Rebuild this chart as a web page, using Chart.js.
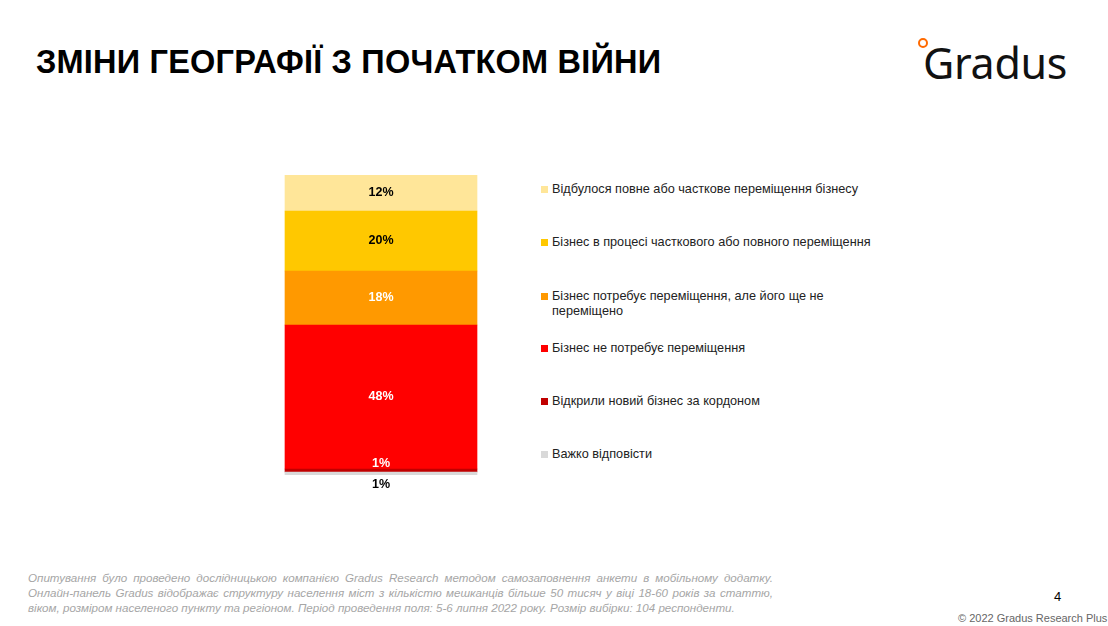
<!DOCTYPE html>
<html>
<head>
<meta charset="utf-8">
<script src="https://cdn.jsdelivr.net/npm/chart.js@4"></script>
<style>
  body { margin: 0; width: 1108px; height: 626px; background: #fff; font-family: "Liberation Sans", Arial, sans-serif; position: relative; overflow: hidden; }
  #title { position: absolute; left: 36px; top: 44px; font-size: 32.5px; font-weight: bold; color: #000; letter-spacing: 0.2px; }
  #logo { position: absolute; left: 923px; top: 33px; font-family: "Noto Sans", sans-serif; font-size: 43px; color: #111; letter-spacing: -0.3px; }
  #logo .dot { position: absolute; left: -5px; top: 5px; width: 6px; height: 6px; border: 2px solid #ff6a00; border-radius: 50%; }
  #chartBox { position: absolute; left: 265px; top: 165px; width: 232px; height: 330px; }
  .leg { position: absolute; left: 541px; font-size: 12.7px; color: #222; line-height: 15px; }
  .leg i { position: absolute; left: 0; top: 4px; width: 7px; height: 7px; }
  .leg span { display: block; margin-left: 11px; }
  #note { position: absolute; left: 28px; top: 570px; width: 745px; font-size: 11.6px; font-style: italic; color: #a6a6a6; line-height: 15px; }
  #note div { text-align: justify; text-align-last: justify; white-space: nowrap; }
  #note div.last { text-align-last: left; }
  #page { position: absolute; left: 1054px; top: 589px; font-size: 13px; color: #000; }
  #copy { position: absolute; left: 958px; top: 612px; font-size: 11px; color: #666; }
</style>
</head>
<body>
<div id="title">ЗМІНИ ГЕОГРАФІЇ З ПОЧАТКОМ ВІЙНИ</div>
<div id="logo"><div class="dot"></div>Gradus</div>
<div id="chartBox"><canvas id="geoChart"></canvas></div>
<div id="legend"></div>
<div id="note">
  <div>Опитування було проведено дослідницькою компанією Gradus Research методом самозаповнення анкети в мобільному додатку.</div>
  <div>Онлайн-панель Gradus відображає структуру населення міст з кількістю мешканців більше 50 тисяч у віці 18-60 років за статтю,</div>
  <div class="last">віком, розміром населеного пункту та регіоном. Період проведення поля: 5-6 липня 2022 року. Розмір вибірки: 104 респонденти.</div>
</div>
<div id="page">4</div>
<div id="copy">© 2022 Gradus Research Plus</div>
<script>
document.addEventListener("DOMContentLoaded", () => {
    // top to bottom, as in the legend
    const answers = [
        { label: "Відбулося повне або часткове переміщення бізнесу", value: 12, color: "#FFE699", text: "#000", y: 182 },
        { label: "Бізнес в процесі часткового або повного переміщення", value: 20, color: "#FFC800", text: "#000", y: 235 },
        { label: "Бізнес потребує переміщення, але його ще не переміщено", value: 18, color: "#FF9900", text: "#fff", y: 289 },
        { label: "Бізнес не потребує переміщення", value: 48, color: "#FF0000", text: "#fff", y: 341 },
        { label: "Відкрили новий бізнес за кордоном", value: 1, color: "#C00000", text: "#fff", y: 394, offset: -7 },
        { label: "Важко відповісти", value: 1, color: "#D9D9D9", text: "#000", y: 447, offset: 11 },
    ];

    // legend
    const legend = document.getElementById("legend");
    answers.forEach((a) => {
        const el = document.createElement("div");
        el.className = "leg";
        el.style.top = a.y + "px";
        el.style.width = a.value === 18 ? "320px" : "400px";
        el.innerHTML = `<i style="background:${a.color}"></i><span>${a.label}</span>`;
        legend.appendChild(el);
    });

    const stacked = answers.slice().reverse();

    const valueLabels = {
        id: "valueLabels",
        afterDatasetsDraw(chart) {
            const ctx = chart.ctx;
            ctx.save();
            ctx.font = "bold 12.5px 'Liberation Sans', Arial";
            ctx.textAlign = "center";
            ctx.textBaseline = "middle";
            chart.data.datasets.forEach((ds, i) => {
                const bar = chart.getDatasetMeta(i).data[0];
                const a = stacked[i];
                const y = (bar.y + bar.base) / 2 + (a.offset || 0);
                ctx.fillStyle = a.text;
                ctx.fillText(a.value + "%", bar.x, y);
            });
            ctx.restore();
        },
    };

    new Chart(document.getElementById("geoChart"), {
        type: "bar",
        data: {
            labels: [""],
            datasets: stacked.map((a) => ({
                label: a.label,
                data: [a.value],
                backgroundColor: a.color,
                barThickness: 192,
            })),
        },
        options: {
            responsive: true,
            maintainAspectRatio: false,
            animation: false,
            layout: { padding: { top: 10, bottom: 20 } },
            plugins: { legend: { display: false }, tooltip: { enabled: false } },
            scales: {
                x: { stacked: true, display: false },
                y: { stacked: true, display: false, min: 0, max: 100 },
            },
        },
        plugins: [valueLabels],
    });
});
</script>
</body>
</html>
